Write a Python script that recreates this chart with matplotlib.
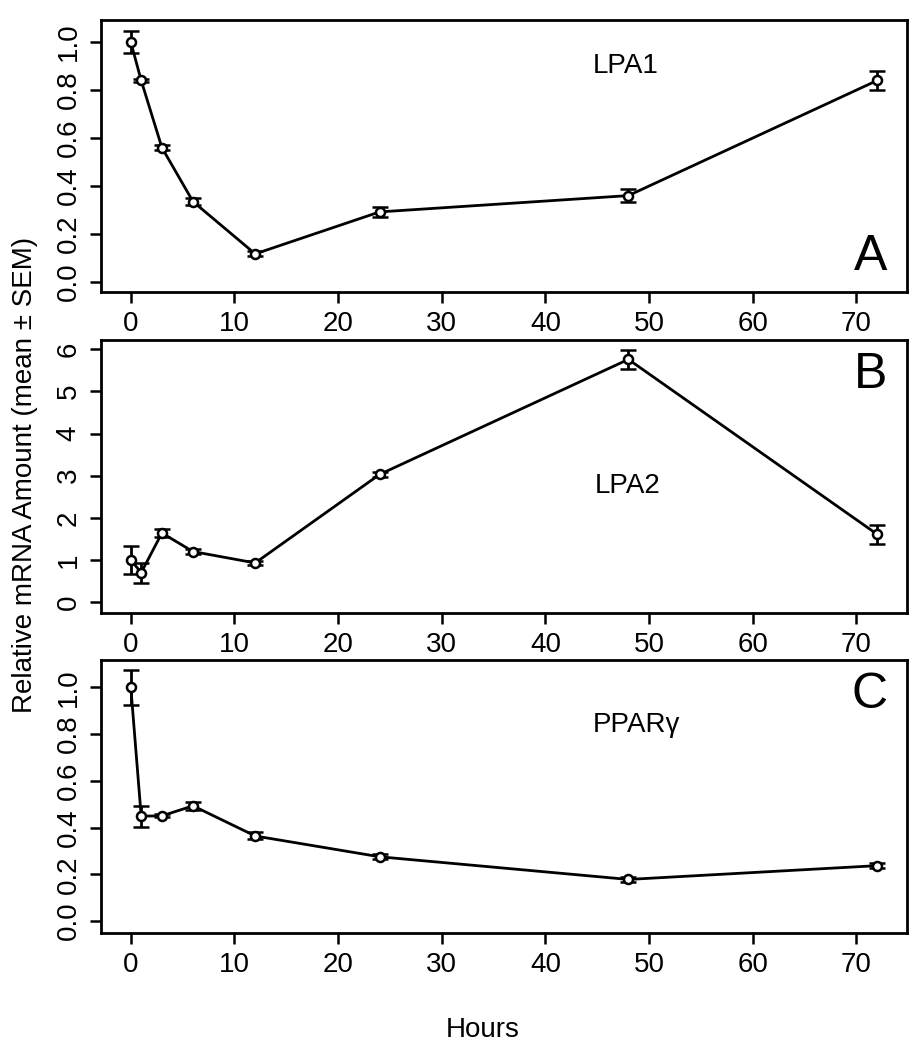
import matplotlib
matplotlib.use("Agg")
import matplotlib.pyplot as plt
import numpy as np

plt.rcParams['font.family'] = ['Liberation Sans', 'DejaVu Sans']

hours = [0, 1, 3, 6, 12, 24, 48, 72]

lpa1 = [1.00, 0.84, 0.56, 0.335, 0.117, 0.292, 0.36, 0.84]
lpa1_sem = [0.045, 0.006, 0.01, 0.015, 0.01, 0.02, 0.026, 0.04]

lpa2 = [1.00, 0.70, 1.64, 1.20, 0.93, 3.03, 5.76, 1.61]
lpa2_sem = [0.34, 0.24, 0.09, 0.05, 0.04, 0.06, 0.23, 0.22]

ppar = [1.00, 0.449, 0.45, 0.493, 0.364, 0.275, 0.178, 0.237]
ppar_sem = [0.076, 0.045, 0.006, 0.017, 0.015, 0.01, 0.01, 0.01]

xticks = [0, 10, 20, 30, 40, 50, 60, 70]

panels = [
    dict(y=lpa1, e=lpa1_sem, name="LPA1", namex=47.7, namey=0.90, letter="A", lpos="bottom",
         ylim=(-0.042, 1.092), yticks=[0.0, 0.2, 0.4, 0.6, 0.8, 1.0],
         ylabels=["0.0", "0.2", "0.4", "0.6", "0.8", "1.0"], rect=[0.1101, 0.7219, 0.879, 0.259]),
    dict(y=lpa2, e=lpa2_sem, name="LPA2", namex=47.9, namey=2.75, letter="B", lpos="top",
         ylim=(-0.25, 6.22), yticks=[0, 1, 2, 3, 4, 5, 6],
         ylabels=["0", "1", "2", "3", "4", "5", "6"], rect=[0.1101, 0.4165, 0.879, 0.2597]),
    dict(y=ppar, e=ppar_sem, name="PPARγ", namex=48.8, namey=0.84, letter="C", lpos="top",
         ylim=(-0.05, 1.117), yticks=[0.0, 0.2, 0.4, 0.6, 0.8, 1.0],
         ylabels=["0.0", "0.2", "0.4", "0.6", "0.8", "1.0"], rect=[0.1101, 0.1117, 0.879, 0.2597]),
]

fig = plt.figure(figsize=(9.17, 10.5), dpi=100)
fs = 20

for p in panels:
    ax = fig.add_axes(p["rect"])
    ax.errorbar(hours, p["y"], yerr=p["e"], color="black", lw=2.0, elinewidth=2.0,
                capsize=6, capthick=2.0, marker="o", ms=6.5, mfc="white", mec="black", mew=1.8)
    ax.set_xlim(-2.88, 74.88)
    ax.set_ylim(*p["ylim"])
    ax.set_xticks(xticks)
    ax.set_xticklabels([str(t) for t in xticks])
    ax.set_yticks(p["yticks"])
    ax.set_yticklabels(p["ylabels"], rotation=90, va="center")
    ax.tick_params(direction="out", length=8, width=1.8, labelsize=fs, pad=6)
    for s in ax.spines.values():
        s.set_linewidth(2.0)
    ax.text(p["namex"], p["namey"], p["name"], fontsize=fs, ha="center", va="center")
    if p["lpos"] == "bottom":
        ax.text(0.976, 0.045, p["letter"], transform=ax.transAxes, fontsize=36,
                ha="right", va="bottom")
    else:
        ax.text(0.976, 0.955, p["letter"], transform=ax.transAxes, fontsize=36,
                ha="right", va="top")

fig.text(0.027, 0.548, "Relative mRNA Amount (mean ± SEM)", rotation=90,
         fontsize=fs, ha="center", va="center")
fig.text(0.526, 0.019, "Hours", fontsize=fs, ha="center", va="center")

fig.savefig("out.png", dpi=100)
